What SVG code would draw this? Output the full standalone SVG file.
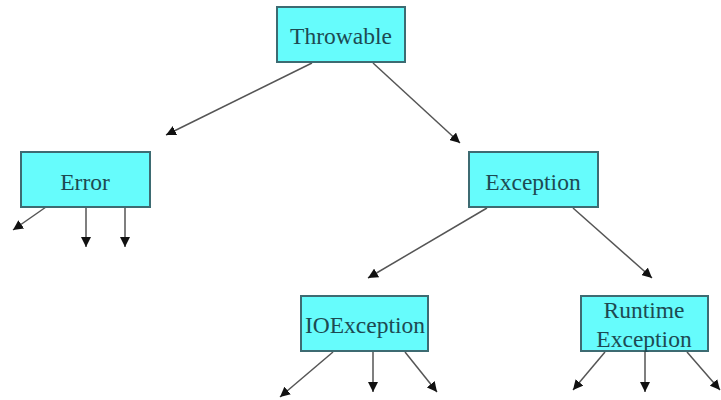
<svg xmlns="http://www.w3.org/2000/svg" width="721" height="400" viewBox="0 0 721 400">
<style>
.box{fill:#66fcfc;stroke:#3d6b72;stroke-width:2}
.lbl{font-family:"Liberation Serif","Times New Roman",serif;font-size:23.5px;fill:#1d4a52;text-anchor:middle}
.c{stroke:#555;stroke-width:1.5;fill:none;marker-end:url(#ah)}
</style>
<defs>
<marker id="ah" viewBox="0 0 10 10" refX="10" refY="5" markerWidth="10" markerHeight="10" markerUnits="userSpaceOnUse" orient="auto">
<path d="M0,0 L10,5 L0,10 z" fill="#111"/>
</marker>
</defs>
<rect width="721" height="400" fill="#fff"/>
<g id="connectors">
<line class="c" x1="312" y1="63" x2="166" y2="135"/>
<line class="c" x1="373" y1="63" x2="460" y2="143"/>
<line class="c" x1="46" y1="207" x2="13" y2="230"/>
<line class="c" x1="86" y1="207" x2="86" y2="247"/>
<line class="c" x1="125" y1="207" x2="125" y2="247"/>
<line class="c" x1="487" y1="208" x2="368" y2="278"/>
<line class="c" x1="573" y1="208" x2="652" y2="278"/>
<line class="c" x1="333" y1="352" x2="280" y2="397"/>
<line class="c" x1="373" y1="352" x2="373" y2="392"/>
<line class="c" x1="405" y1="352" x2="437" y2="392"/>
<line class="c" x1="605" y1="352" x2="573" y2="390"/>
<line class="c" x1="645" y1="352" x2="645" y2="392"/>
<line class="c" x1="687" y1="352" x2="720" y2="390"/>
</g>
<g id="throwable">
<rect class="box" x="277" y="7" width="128" height="55"/>
<text class="lbl" x="341" y="44">Throwable</text>
</g>
<g id="error">
<rect class="box" x="21" y="152" width="129" height="55"/>
<text class="lbl" x="85" y="190">Error</text>
</g>
<g id="exception">
<rect class="box" x="469" y="152" width="129" height="55"/>
<text class="lbl" x="533" y="190">Exception</text>
</g>
<g id="ioexception">
<rect class="box" x="301" y="296" width="127" height="55"/>
<text class="lbl" x="365" y="333">IOException</text>
</g>
<g id="runtimeexception">
<rect class="box" x="581" y="296" width="127" height="55"/>
<text class="lbl" x="644" y="318">Runtime</text>
<text class="lbl" x="644" y="347">Exception</text>
</g>
</svg>
